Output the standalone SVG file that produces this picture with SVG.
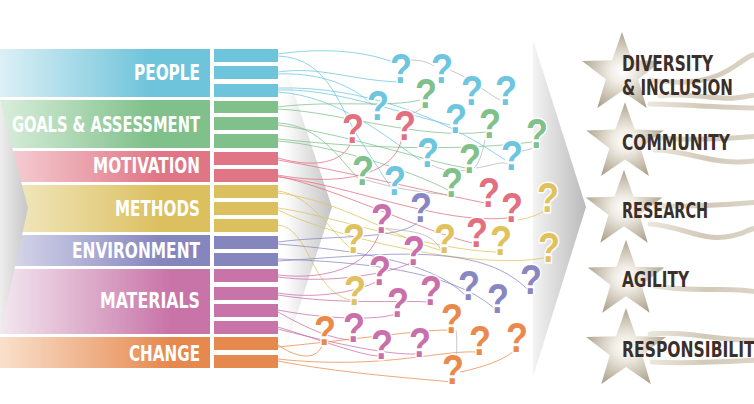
<svg xmlns="http://www.w3.org/2000/svg" width="754" height="404" viewBox="0 0 754 404">
<style>
.lbl{font-family:"Liberation Sans Narrow","DejaVu Sans Condensed","Liberation Sans",sans-serif;font-weight:bold;font-size:21px;fill:#fff;text-anchor:end}
.stx{font-family:"Liberation Sans Narrow","DejaVu Sans Condensed","Liberation Sans",sans-serif;font-weight:bold;font-size:21px;fill:#3b2f2a}
.q{font-family:"Liberation Sans","Arial",sans-serif;font-weight:bold;font-size:42px;text-anchor:middle;stroke:#fff;stroke-width:3;paint-order:stroke;stroke-linejoin:round}
.qb{fill:#6ec6de}.qg{fill:#80c08a}.qp{fill:#e2707f}.qy{fill:#e0c25c}.qv{fill:#8a86c2}.qm{fill:#c970aa}.qo{fill:#e98a4c}
#links path{fill:none;stroke-width:0.9;opacity:0.85}
.cb{stroke:#6ec6de}.cg{stroke:#80c08a}.cp{stroke:#e2707f}.cy{stroke:#e0c25c}.cv{stroke:#8a86c2}.cm{stroke:#c970aa}.co{stroke:#e98a4c}.cx{stroke:#b5b5b5}
.rib{fill:none;stroke:url(#ribg);stroke-width:5;stroke-linecap:round}
</style>
<defs>
<linearGradient id="gPeople" x1="0" x2="150" y1="0" y2="0" gradientUnits="userSpaceOnUse"><stop offset="0" stop-color="#ddf0f6"/><stop offset="1" stop-color="#6ec4da"/></linearGradient>
<linearGradient id="gGoals" x1="0" x2="150" y1="0" y2="0" gradientUnits="userSpaceOnUse"><stop offset="0" stop-color="#d9eedc"/><stop offset="1" stop-color="#80c08a"/></linearGradient>
<linearGradient id="gMot" x1="0" x2="160" y1="0" y2="0" gradientUnits="userSpaceOnUse"><stop offset="0" stop-color="#f6d4d8"/><stop offset="1" stop-color="#e07585"/></linearGradient>
<linearGradient id="gMeth" x1="0" x2="160" y1="0" y2="0" gradientUnits="userSpaceOnUse"><stop offset="0" stop-color="#f3ebc8"/><stop offset="1" stop-color="#dcc060"/></linearGradient>
<linearGradient id="gEnv" x1="0" x2="160" y1="0" y2="0" gradientUnits="userSpaceOnUse"><stop offset="0" stop-color="#dcdcee"/><stop offset="1" stop-color="#8686be"/></linearGradient>
<linearGradient id="gMat" x1="0" x2="170" y1="0" y2="0" gradientUnits="userSpaceOnUse"><stop offset="0" stop-color="#f3e8f0"/><stop offset="1" stop-color="#c874a8"/></linearGradient>
<linearGradient id="gChg" x1="0" x2="170" y1="0" y2="0" gradientUnits="userSpaceOnUse"><stop offset="0" stop-color="#f9e0cc"/><stop offset="1" stop-color="#e6894e"/></linearGradient>
<linearGradient id="gChev" x1="0" x2="28" y1="0" y2="0" gradientUnits="userSpaceOnUse"><stop offset="0" stop-color="#eeeeee"/><stop offset="1" stop-color="#c6c6c6"/></linearGradient>
<linearGradient id="gFold1" x1="284" x2="332" y1="0" y2="0" gradientUnits="userSpaceOnUse"><stop offset="0" stop-color="#ffffff"/><stop offset="1" stop-color="#c4c4c4"/></linearGradient>
<linearGradient id="gFold2" x1="522" x2="586" y1="0" y2="0" gradientUnits="userSpaceOnUse"><stop offset="0" stop-color="#ffffff"/><stop offset="1" stop-color="#bababa"/></linearGradient>
<radialGradient id="gStar" cx="0.5" cy="0.52" r="0.55"><stop offset="0" stop-color="#ffffff"/><stop offset="0.3" stop-color="#efebe3"/><stop offset="1" stop-color="#a99e87"/></radialGradient>
<linearGradient id="ribg" x1="0" x2="1" y1="0" y2="0"><stop offset="0" stop-color="#ebe6dc"/><stop offset="0.5" stop-color="#d2c9b8"/><stop offset="1" stop-color="#ddd6c9"/></linearGradient>
<path id="star" d="M0,-42 L10,-13.8 L39.9,-13 L16.2,5.3 L24.7,34 L0,17 L-24.7,34 L-16.2,5.3 L-39.9,-13 L-10,-13.8 Z" fill="url(#gStar)"/>
</defs>
<rect width="754" height="404" fill="#fff"/>

<g id="people">
<rect x="0" y="49" width="210" height="48" fill="url(#gPeople)"/>
<rect x="214" y="49" width="64" height="13" fill="#6ec4da"/><rect x="214" y="66" width="64" height="13" fill="#6ec4da"/><rect x="214" y="84" width="64" height="13" fill="#6ec4da"/>
<text class="lbl" x="200" y="80" textLength="66" lengthAdjust="spacingAndGlyphs">PEOPLE</text>
</g>
<g id="goals">
<rect x="0" y="100" width="210" height="48" fill="url(#gGoals)"/>
<rect x="214" y="101" width="64" height="12" fill="#80c08a"/><rect x="214" y="117" width="64" height="13" fill="#80c08a"/><rect x="214" y="134" width="64" height="14" fill="#80c08a"/>
<text class="lbl" x="200" y="132" textLength="188" lengthAdjust="spacingAndGlyphs">GOALS &amp; ASSESSMENT</text>
</g>
<g id="motivation">
<rect x="0" y="151" width="210" height="31" fill="url(#gMot)"/>
<rect x="214" y="152" width="64" height="13" fill="#e07585"/><rect x="214" y="169" width="64" height="13" fill="#e07585"/>
<text class="lbl" x="200" y="173" textLength="107" lengthAdjust="spacingAndGlyphs">MOTIVATION</text>
</g>
<g id="methods">
<rect x="0" y="185" width="210" height="47" fill="url(#gMeth)"/>
<rect x="214" y="185" width="64" height="13" fill="#dcc060"/><rect x="214" y="202" width="64" height="13" fill="#dcc060"/><rect x="214" y="219" width="64" height="13" fill="#dcc060"/>
<text class="lbl" x="200" y="216" textLength="85" lengthAdjust="spacingAndGlyphs">METHODS</text>
</g>
<g id="environment">
<rect x="0" y="235" width="210" height="31" fill="url(#gEnv)"/>
<rect x="214" y="236" width="64" height="13" fill="#8686be"/><rect x="214" y="253" width="64" height="13" fill="#8686be"/>
<text class="lbl" x="200" y="258" textLength="128" lengthAdjust="spacingAndGlyphs">ENVIRONMENT</text>
</g>
<g id="materials">
<rect x="0" y="269" width="210" height="65" fill="url(#gMat)"/>
<rect x="214" y="269" width="64" height="13" fill="#c874a8"/><rect x="214" y="287" width="64" height="13" fill="#c874a8"/><rect x="214" y="304" width="64" height="13" fill="#c874a8"/><rect x="214" y="321" width="64" height="13" fill="#c874a8"/>
<text class="lbl" x="200" y="308" textLength="100" lengthAdjust="spacingAndGlyphs">MATERIALS</text>
</g>
<g id="change">
<rect x="0" y="337" width="210" height="31" fill="url(#gChg)"/>
<rect x="214" y="337" width="64" height="13" fill="#e6894e"/><rect x="214" y="355" width="64" height="13" fill="#e6894e"/>
<text class="lbl" x="200" y="361" textLength="71" lengthAdjust="spacingAndGlyphs">CHANGE</text>
</g>

<polygon id="chevron-left" points="0,100 28,208 0,335" fill="url(#gChev)"/>
<polygon id="fold-1" points="278,45 332,207 278,372" fill="url(#gFold1)"/>
<polygon id="fold-2" points="533,40 586,207 533,377" fill="url(#gFold2)"/>

<g id="links">
<path class="cb" d="M278,54 C320,48 360,50 393,62"/>
<path class="cb" d="M278,56 C330,58 340,110 360,140 S385,180 392,188"/>
<path class="cb" d="M278,72 C320,66 350,80 398,82"/>
<path class="cb" d="M278,74 C330,72 360,92 372,105"/>
<path class="cb" d="M278,90 C330,88 390,110 450,125"/>
<path class="cb" d="M278,92 C340,96 390,140 420,160"/>
<path class="cb" d="M278,88 C360,86 440,115 505,160"/>
<path class="cg" d="M278,107 C330,100 390,108 420,100"/>
<path class="cg" d="M278,109 C340,112 420,140 486,132"/>
<path class="cg" d="M278,123 C320,125 340,160 358,178"/>
<path class="cg" d="M278,125 C350,135 420,160 466,168"/>
<path class="cg" d="M278,141 C330,145 410,170 448,190"/>
<path class="cg" d="M278,139 C380,150 470,150 532,142"/>
<path class="cp" d="M278,158 C320,170 348,160 352,138"/>
<path class="cp" d="M278,160 C340,170 420,190 485,203"/>
<path class="cp" d="M278,175 C330,185 395,180 402,137"/>
<path class="cp" d="M278,177 C350,185 440,225 508,218"/>
<path class="cp" d="M278,176 C340,190 420,230 472,243"/>
<path class="cy" d="M278,191 C310,195 330,230 350,248"/>
<path class="cy" d="M278,193 C340,200 400,240 440,250"/>
<path class="cy" d="M278,208 C330,215 430,250 496,252"/>
<path class="cy" d="M278,210 C340,240 480,270 544,258"/>
<path class="cy" d="M278,225 C310,228 310,290 350,300"/>
<path class="cy" d="M518,220 C530,218 540,214 546,210"/>
<path class="cv" d="M278,242 C330,235 400,240 418,222"/>
<path class="cv" d="M278,244 C350,250 430,260 465,295"/>
<path class="cv" d="M278,259 C360,262 450,270 494,308"/>
<path class="cv" d="M278,261 C380,255 480,240 528,290"/>
<path class="cm" d="M278,275 C320,280 370,270 380,230"/>
<path class="cm" d="M278,277 C340,285 400,270 412,262"/>
<path class="cm" d="M278,293 C320,300 360,290 376,282"/>
<path class="cm" d="M278,295 C340,305 400,300 428,302"/>
<path class="cm" d="M278,310 C330,320 380,320 395,314"/>
<path class="cm" d="M278,312 C310,330 330,338 350,340"/>
<path class="cm" d="M278,327 C320,340 360,355 378,356"/>
<path class="cm" d="M278,329 C340,345 390,355 416,354"/>
<path class="co" d="M278,345 C300,360 318,360 323,343"/>
<path class="co" d="M278,347 C350,340 420,330 448,330"/>
<path class="co" d="M278,361 C350,375 440,380 450,382"/>
<path class="co" d="M278,359 C380,370 440,350 476,352"/>
<path class="co" d="M460,372 C480,368 505,360 515,350"/>
<path class="cx" d="M410,60 C420,60 428,62 434,66"/>
<path class="cx" d="M450,70 C470,78 485,92 500,100"/>
<path class="cx" d="M408,115 C418,112 422,108 425,104"/>
<path class="cx" d="M485,140 C482,155 478,165 474,168"/>
<path class="cx" d="M476,168 C495,165 505,160 508,165"/>
<path class="cx" d="M518,152 C525,150 530,150 537,146"/>
<path class="cx" d="M366,180 C385,185 400,190 448,195"/>
<path class="cx" d="M432,165 C440,170 455,172 466,170"/>
<path class="cx" d="M386,228 C400,232 430,228 441,250"/>
<path class="cx" d="M456,330 C458,345 456,365 454,380"/>
</g>

<g id="questions">
<text id="q1" class="q qb" x="401" y="83" textLength="22" lengthAdjust="spacingAndGlyphs">?</text>
<text id="q2" class="q qb" x="442" y="83" textLength="22" lengthAdjust="spacingAndGlyphs">?</text>
<text id="q3" class="q qg" x="426" y="108" textLength="22" lengthAdjust="spacingAndGlyphs">?</text>
<text id="q4" class="q qb" x="472" y="105" textLength="22" lengthAdjust="spacingAndGlyphs">?</text>
<text id="q5" class="q qb" x="506" y="105" textLength="22" lengthAdjust="spacingAndGlyphs">?</text>
<text id="q6" class="q qb" x="378" y="120" textLength="22" lengthAdjust="spacingAndGlyphs">?</text>
<text id="q7" class="q qp" x="353" y="143" textLength="22" lengthAdjust="spacingAndGlyphs">?</text>
<text id="q8" class="q qp" x="405" y="140" textLength="22" lengthAdjust="spacingAndGlyphs">?</text>
<text id="q9" class="q qb" x="456" y="133" textLength="22" lengthAdjust="spacingAndGlyphs">?</text>
<text id="q10" class="q qg" x="490" y="138" textLength="22" lengthAdjust="spacingAndGlyphs">?</text>
<text id="q11" class="q qg" x="537" y="148" textLength="22" lengthAdjust="spacingAndGlyphs">?</text>
<text id="q12" class="q qb" x="428" y="167" textLength="22" lengthAdjust="spacingAndGlyphs">?</text>
<text id="q13" class="q qg" x="470" y="173" textLength="22" lengthAdjust="spacingAndGlyphs">?</text>
<text id="q14" class="q qb" x="512" y="170" textLength="22" lengthAdjust="spacingAndGlyphs">?</text>
<text id="q15" class="q qg" x="363" y="185" textLength="22" lengthAdjust="spacingAndGlyphs">?</text>
<text id="q16" class="q qb" x="395" y="195" textLength="22" lengthAdjust="spacingAndGlyphs">?</text>
<text id="q17" class="q qg" x="452" y="197" textLength="22" lengthAdjust="spacingAndGlyphs">?</text>
<text id="q18" class="q qp" x="489" y="207" textLength="22" lengthAdjust="spacingAndGlyphs">?</text>
<text id="q19" class="q qp" x="512" y="222" textLength="22" lengthAdjust="spacingAndGlyphs">?</text>
<text id="q20" class="q qy" x="548" y="212" textLength="22" lengthAdjust="spacingAndGlyphs">?</text>
<text id="q21" class="q qv" x="421" y="222" textLength="22" lengthAdjust="spacingAndGlyphs">?</text>
<text id="q22" class="q qm" x="382" y="233" textLength="22" lengthAdjust="spacingAndGlyphs">?</text>
<text id="q23" class="q qp" x="477" y="247" textLength="22" lengthAdjust="spacingAndGlyphs">?</text>
<text id="q24" class="q qy" x="354" y="253" textLength="22" lengthAdjust="spacingAndGlyphs">?</text>
<text id="q25" class="q qy" x="445" y="253" textLength="22" lengthAdjust="spacingAndGlyphs">?</text>
<text id="q26" class="q qy" x="501" y="255" textLength="22" lengthAdjust="spacingAndGlyphs">?</text>
<text id="q27" class="q qm" x="414" y="265" textLength="22" lengthAdjust="spacingAndGlyphs">?</text>
<text id="q28" class="q qy" x="549" y="262" textLength="22" lengthAdjust="spacingAndGlyphs">?</text>
<text id="q29" class="q qm" x="380" y="285" textLength="22" lengthAdjust="spacingAndGlyphs">?</text>
<text id="q30" class="q qy" x="355" y="305" textLength="22" lengthAdjust="spacingAndGlyphs">?</text>
<text id="q31" class="q qm" x="431" y="305" textLength="22" lengthAdjust="spacingAndGlyphs">?</text>
<text id="q32" class="q qv" x="469" y="300" textLength="22" lengthAdjust="spacingAndGlyphs">?</text>
<text id="q33" class="q qv" x="498" y="313" textLength="22" lengthAdjust="spacingAndGlyphs">?</text>
<text id="q34" class="q qv" x="531" y="294" textLength="22" lengthAdjust="spacingAndGlyphs">?</text>
<text id="q35" class="q qm" x="398" y="317" textLength="22" lengthAdjust="spacingAndGlyphs">?</text>
<text id="q36" class="q qo" x="452" y="333" textLength="22" lengthAdjust="spacingAndGlyphs">?</text>
<text id="q37" class="q qo" x="325" y="345" textLength="22" lengthAdjust="spacingAndGlyphs">?</text>
<text id="q38" class="q qm" x="354" y="342" textLength="22" lengthAdjust="spacingAndGlyphs">?</text>
<text id="q39" class="q qo" x="480" y="355" textLength="22" lengthAdjust="spacingAndGlyphs">?</text>
<text id="q40" class="q qo" x="517" y="352" textLength="22" lengthAdjust="spacingAndGlyphs">?</text>
<text id="q41" class="q qm" x="382" y="359" textLength="22" lengthAdjust="spacingAndGlyphs">?</text>
<text id="q42" class="q qm" x="420" y="357" textLength="22" lengthAdjust="spacingAndGlyphs">?</text>
<text id="q43" class="q qo" x="453" y="384" textLength="22" lengthAdjust="spacingAndGlyphs">?</text>
</g>

<g id="ribbons">
<path class="rib" d="M650,80 C690,86 715,80 735,66 S750,56 760,54"/>
<path class="rib" d="M660,96 C690,92 715,100 735,98 S750,94 760,96"/>
<path class="rib" d="M650,104 C680,104 720,108 760,108" stroke-width="3"/>
<path class="rib" d="M660,138 C690,140 720,140 760,136"/>
<path class="rib" d="M655,150 C690,150 715,168 760,160"/>
<path class="rib" d="M655,206 C690,206 720,206 760,202"/>
<path class="rib" d="M650,224 C680,226 700,240 725,237 S745,228 760,228"/>
<path class="rib" d="M655,286 C690,292 720,288 740,290 S752,292 760,290"/>
<path class="rib" d="M650,334 C690,330 720,342 760,340"/>
<path class="rib" d="M652,362 C690,364 720,362 760,360"/>
</g>

<g id="diversity"><use href="#star" transform="translate(622,74)"/>
<text class="stx" x="622" y="71" textLength="91" lengthAdjust="spacingAndGlyphs">DIVERSITY</text>
<text class="stx" x="622" y="95" textLength="111" lengthAdjust="spacingAndGlyphs">&amp; INCLUSION</text></g>
<g id="community"><use href="#star" transform="translate(625,143) scale(0.97)"/>
<text class="stx" x="622" y="150" textLength="108" lengthAdjust="spacingAndGlyphs">COMMUNITY</text></g>
<g id="research"><use href="#star" transform="translate(624,210) scale(0.96)"/>
<text class="stx" x="622" y="218" textLength="86" lengthAdjust="spacingAndGlyphs">RESEARCH</text></g>
<g id="agility"><use href="#star" transform="translate(626,280) scale(0.96)"/>
<text class="stx" x="622" y="287" textLength="67" lengthAdjust="spacingAndGlyphs">AGILITY</text></g>
<g id="responsibility"><use href="#star" transform="translate(626,350)"/>
<text class="stx" x="622" y="357" textLength="144" lengthAdjust="spacingAndGlyphs">RESPONSIBILITY</text></g>
</svg>
